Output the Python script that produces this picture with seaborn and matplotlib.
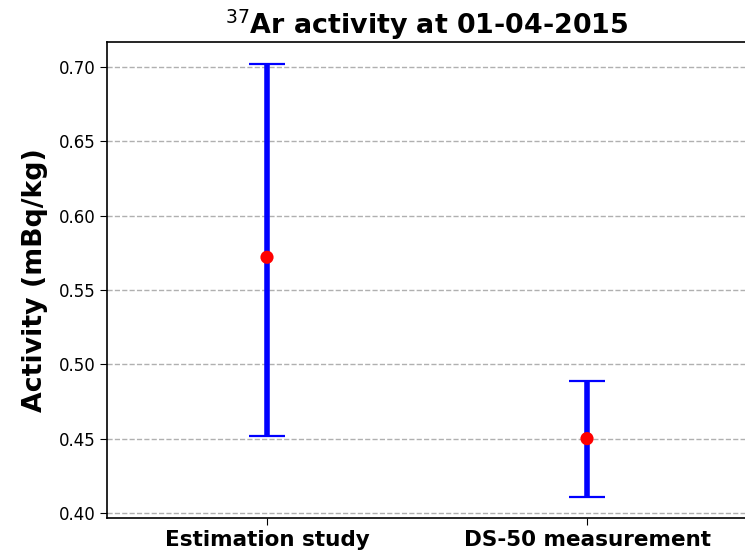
import numpy as np
import seaborn as sns
import matplotlib
matplotlib.use("Agg")
import matplotlib.pyplot as plt

categories = ["Estimation study", "DS-50 measurement"]
activity = [0.572, 0.450]
err_low = [0.120, 0.039]
err_high = [0.130, 0.039]

sns.set_style("ticks")
plt.rcParams['font.family'] = ['DejaVu Sans']
plt.rcParams['text.color'] = 'black'
plt.rcParams['axes.labelcolor'] = 'black'
plt.rcParams['xtick.color'] = 'black'
plt.rcParams['ytick.color'] = 'black'

fig = plt.figure(figsize=(7.45, 5.52), dpi=100)
ax = fig.add_axes([107/745, 34/552, 640/745, 476/552])

xpos = np.arange(len(categories))
ax.errorbar(xpos, activity, yerr=[err_low, err_high], fmt='none',
			ecolor='blue', elinewidth=4, capsize=13, capthick=1.6, zorder=2)
sns.scatterplot(x=xpos, y=activity, color='red', s=90, edgecolor='none', ax=ax, zorder=3)

ax.set_xlim(-0.5, 1.5)
ax.set_ylim(0.3966, 0.7168)
ax.set_xticks(xpos)
ax.set_xticklabels(categories, fontsize=15.5, fontweight='bold', color='black')
ax.set_yticks(np.arange(0.40, 0.701, 0.05))
ax.set_yticklabels(["%.2f" % v for v in np.arange(0.40, 0.701, 0.05)], fontsize=12, color='black')
ax.yaxis.grid(True, linestyle='--', color='#b0b0b0', linewidth=1)
ax.set_axisbelow(True)
ax.set_ylabel("Activity (mBq/kg)", fontsize=19.3, fontweight='bold', color='black', labelpad=7.5)
ax.set_title(r"$^{37}$Ar activity at 01-04-2015", fontsize=19.4, fontweight='bold', color='black')
for s in ax.spines.values():
	s.set_linewidth(1.2)
	s.set_color('black')
ax.tick_params(colors='black', length=5)

fig.savefig("out.png", dpi=100)
